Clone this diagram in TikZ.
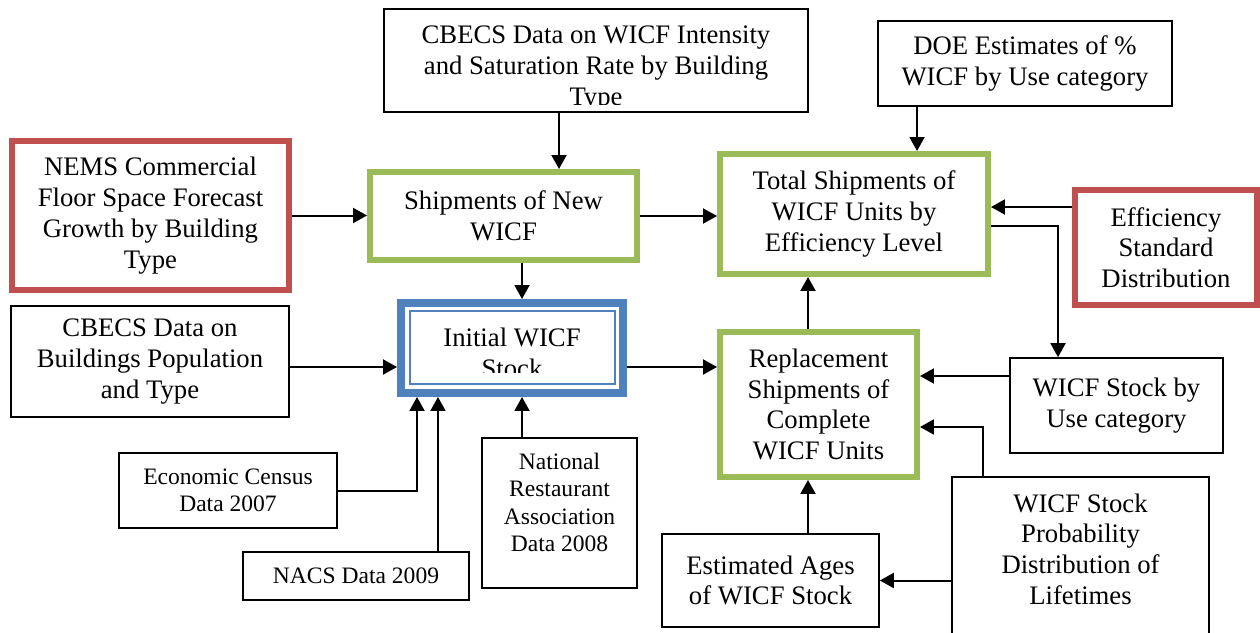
\documentclass[tikz,border=0pt]{standalone}
\usepackage{fontspec}
\setmainfont{Liberation Serif}
\usetikzlibrary{arrows.meta}

\definecolor{boxgreen}{RGB}{155,187,89}
\definecolor{boxred}{RGB}{192,80,77}
\definecolor{boxblue}{RGB}{79,129,189}
\newcommand{\bigtext}{\fontsize{15.2}{17.5}\selectfont}
\newcommand{\smalltext}{\fontsize{13.4}{15.6}\selectfont}

\begin{document}
\begin{tikzpicture}[x=0.02cm, y=-0.02cm,
  every node/.style={align=center, inner sep=0pt, font=\bigtext},
  databox/.style={draw, line width=0.034cm},
  greenbox/.style={draw=boxgreen, line width=0.12cm},
  redbox/.style={draw=boxred, line width=0.12cm},
  bluebox/.style={draw=boxblue, line width=0.16cm},
  arr/.style={-{Triangle[length=0.28cm,width=0.3cm]}, line width=0.04cm}]
\useasboundingbox (0,0) rectangle (1260,632);

% sources
\node[databox, minimum width=8.48cm, minimum height=2.06cm] (cbecs) at (596,60.5) {};
\node (cbecs-txt) at (596,68.6) {CBECS Data on WICF Intensity\\and Saturation Rate by Building\\Type};
\fill[white] ([shift={(0.04cm,-1.94cm)}]cbecs.north west) rectangle ([shift={(-0.04cm,0.04cm)}]cbecs.south east);
\node[databox, minimum width=5.88cm, minimum height=1.70cm] (doe) at (1025,63.5) {DOE Estimates of \%\\WICF by Use category};
\node[redbox, minimum width=5.54cm, minimum height=2.98cm] (nems) at (150.5,215.5) {NEMS Commercial\\Floor Space Forecast\\Growth by Building\\Type};
\node[redbox, minimum width=3.64cm, minimum height=2.30cm] (effic) at (1166,247.5) {Efficiency\\Standard\\Distribution};
\node[databox, minimum width=5.56cm, minimum height=2.22cm] (bldg) at (150,361.5) {CBECS Data on\\Buildings Population\\and Type};
\node[databox, minimum width=4.26cm, minimum height=1.90cm] (stockuse) at (1116.5,405.5) {WICF Stock by\\Use category};
\node[databox, minimum width=5.14cm, minimum height=3.26cm] (prob) at (1080.5,558.5) {};
\node (prob-txt) at (1080.5,549) {WICF Stock\\Probability\\Distribution of\\Lifetimes};
\node[databox, minimum width=4.36cm, minimum height=1.50cm, font=\smalltext] (econ) at (228,490.5) {Economic Census\\Data 2007};
\node[databox, minimum width=4.52cm, minimum height=0.96cm, font=\smalltext] (nacs) at (356,576) {NACS Data 2009};
\node[databox, minimum width=3.10cm, minimum height=3.00cm] (natrest) at (559.5,513) {};
\node[font=\smalltext] (natrest-txt) at (559.5,502.5) {National\\Restaurant\\Association\\Data 2008};
\node[databox, minimum width=4.34cm, minimum height=1.86cm] (estages) at (770.5,580.5) {Estimated Ages\\of WICF Stock};

% model steps
\node[greenbox, minimum width=5.34cm, minimum height=1.76cm] (shipnew) at (503.5,216) {Shipments of New\\WICF};
\node[greenbox, minimum width=5.36cm, minimum height=2.40cm] (total) at (854,214) {Total Shipments of\\WICF Units by\\Efficiency Level};
\node[greenbox, minimum width=3.94cm, minimum height=2.90cm] (repl) at (818.5,404.5) {Replacement\\Shipments of\\Complete\\WICF Units};
\node[bluebox, minimum width=4.44cm, minimum height=1.80cm] (init) at (512,348) {};
\draw[boxblue, line width=0.04cm] ([shift={(0.25cm,-0.24cm)}]init.north west) rectangle ([shift={(-0.23cm,0.25cm)}]init.south east);
\node (init-txt) at (512,352.5) {Initial WICF\\Stock};
\fill[white] ([shift={(0.29cm,0.48cm)}]init.south west) rectangle ([shift={(-0.27cm,0.28cm)}]init.south east);

% connectors
\draw[arr] ([xshift=-0.74cm]cbecs.south) -- ([xshift=-0.74cm]cbecs.south |- shipnew.north);
\draw[arr] (nems.east) -- (nems.east -| shipnew.west);
\draw[arr] (shipnew.east) -- (shipnew.east -| total.west);
\draw[arr] ([xshift=-2.16cm]doe.south) -- ([xshift=-2.16cm]doe.south |- total.north);
\draw[arr] ([yshift=0.81cm]effic.west) -- ([yshift=0.81cm]effic.west -| total.east);
\draw[arr] ([yshift=-0.24cm]total.east) -| ([xshift=-1.17cm]stockuse.north);
\draw[arr] ([xshift=0.37cm]shipnew.south) -- ([xshift=0.37cm]shipnew.south |- init.north);
\draw[arr] ([yshift=-0.11cm]bldg.east) -- ([yshift=-0.11cm]bldg.east -| init.west);
\draw[arr] ([yshift=-0.38cm]init.east) -- ([yshift=-0.38cm]init.east -| repl.west);
\draw[arr] ([xshift=-0.21cm]repl.north) -- ([xshift=-0.21cm]repl.north |- total.south);
\draw[arr] ([yshift=0.59cm]stockuse.west) -- ([yshift=0.59cm]stockuse.west -| repl.east);
\draw[arr] ([xshift=-1.95cm]prob.north) |- ([yshift=-0.45cm]repl.east);
\draw[arr] (estages.east -| prob.west) -- (estages.east);
\draw[arr] ([xshift=0.75cm]estages.north) -- ([xshift=0.75cm]estages.north |- repl.south);
\draw[arr] (econ.east) -| ([xshift=-1.90cm]init.south);
\draw[arr] ([xshift=1.64cm]nacs.north) -- ([xshift=1.64cm]nacs.north |- init.south);
\draw[arr] ([xshift=-0.75cm]natrest.north) -- ([xshift=-0.75cm]natrest.north |- init.south);
\end{tikzpicture}
\end{document}
